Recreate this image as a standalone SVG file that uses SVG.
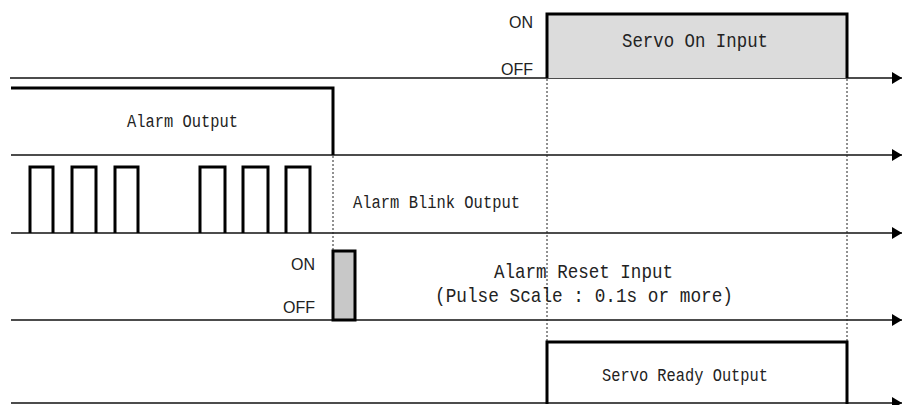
<svg xmlns="http://www.w3.org/2000/svg" width="904" height="405" viewBox="0 0 904 405">
<style>
.base{stroke:#111;stroke-width:1.5;fill:none}
.dash{stroke:#222;stroke-width:1;stroke-dasharray:2 2;fill:none}
.sig{stroke:#000;stroke-width:3;fill:none;stroke-linejoin:miter}
.lbl{font-family:"Liberation Mono","DejaVu Sans Mono",monospace;fill:#222}
.onoff{font-family:"Liberation Sans","Arial",sans-serif;font-size:16px;fill:#222;text-anchor:end}
</style>
<defs>
<marker id="arr" markerUnits="userSpaceOnUse" markerWidth="12" markerHeight="14" refX="10" refY="6" orient="auto">
<path d="M0,0 L10,6 L0,12 Z" fill="#000"/>
</marker>
</defs>
<g id="connectors">
<line class="base" x1="10" y1="78" x2="902" y2="78" marker-end="url(#arr)"/>
<line class="base" x1="11" y1="155" x2="902" y2="155" marker-end="url(#arr)"/>
<line class="base" x1="11" y1="233" x2="902" y2="233" marker-end="url(#arr)"/>
<line class="base" x1="11" y1="320" x2="902" y2="320" marker-end="url(#arr)"/>
<line class="base" x1="11" y1="403" x2="902" y2="403" marker-end="url(#arr)"/>
<line class="dash" x1="333" y1="156" x2="333" y2="251"/>
<line class="dash" x1="547" y1="79" x2="547" y2="342"/>
<line class="dash" x1="847" y1="79" x2="847" y2="342"/>
</g>
<g id="servo-on-input">
<rect x="547" y="14" width="300" height="64" fill="#dcdcdc" stroke="none"/>
<polyline class="sig" points="547,78 547,14 847,14 847,78"/>
<text class="onoff" x="533" y="28">ON</text>
<text class="onoff" x="533" y="75">OFF</text>
<text class="lbl" x="622" y="47" font-size="21" textLength="146" lengthAdjust="spacingAndGlyphs">Servo On Input</text>
</g>
<g id="alarm-output">
<polyline class="sig" points="11,88 333,88 333,155"/>
<text class="lbl" x="127" y="127" font-size="18" textLength="111" lengthAdjust="spacingAndGlyphs">Alarm Output</text>
</g>
<g id="alarm-blink-output">
<path class="sig" d="M30,233 V167 H53 V233 M72,233 V167 H96 V233 M115,233 V167 H138 V233 M200,233 V167 H225 V233 M243,233 V167 H268 V233 M286,233 V167 H310 V233"/>
<text class="lbl" x="353" y="208" font-size="18" textLength="167" lengthAdjust="spacingAndGlyphs">Alarm Blink Output</text>
</g>
<g id="alarm-reset-input">
<rect x="333" y="251" width="22" height="69" fill="#c8c8c8" stroke="#000" stroke-width="3"/>
<text class="onoff" x="315" y="270">ON</text>
<text class="onoff" x="315" y="313">OFF</text>
<text class="lbl" x="494" y="278" font-size="21" textLength="179" lengthAdjust="spacingAndGlyphs">Alarm Reset Input</text>
<text class="lbl" x="435" y="302" font-size="21" textLength="298" lengthAdjust="spacingAndGlyphs">(Pulse Scale : 0.1s or more)</text>
</g>
<g id="servo-ready-output">
<polyline class="sig" points="547,404 547,342 847,342 847,404"/>
<text class="lbl" x="602" y="381" font-size="18" textLength="166" lengthAdjust="spacingAndGlyphs">Servo Ready Output</text>
</g>
</svg>
